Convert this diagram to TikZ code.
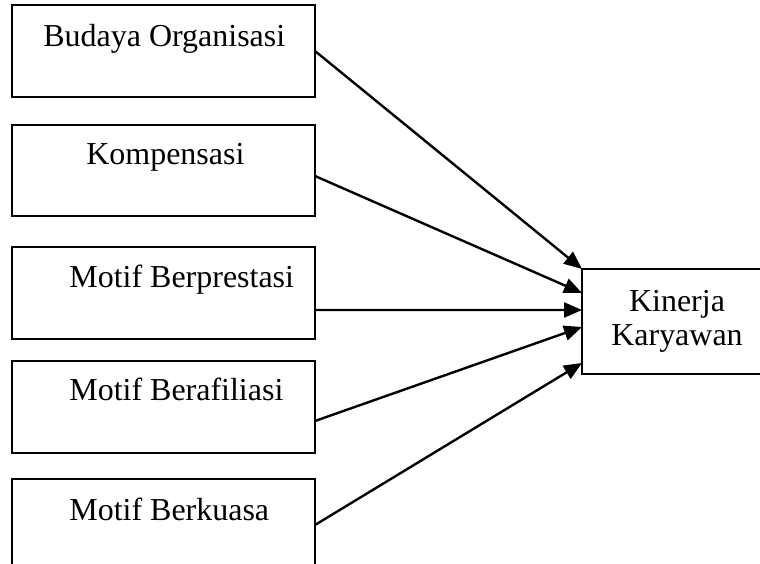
\documentclass[tikz,border=0pt]{standalone}
\usepackage{fontspec}
\setmainfont{Liberation Serif}
\usepackage{tikz}
\usetikzlibrary{arrows.meta}

\begin{document}
\begin{tikzpicture}[
    x=0.02cm, y=-0.02cm,
    varbox/.style={
        rectangle, draw, line width=0.04cm, outer sep=0pt, inner sep=0pt,
        minimum width=6.06cm, minimum height=1.84cm
    },
    mainbox/.style={
        rectangle, draw, line width=0.04cm, outer sep=0pt, inner sep=0pt,
        minimum width=3.8cm, minimum height=2.1cm,
        align=center, font=\fontsize{18.2}{21}\selectfont
    },
    txt/.style={anchor=base west, inner sep=0pt, font=\fontsize{18.2}{21}\selectfont},
    link/.style={line width=0.048cm, -{Triangle[length=0.36cm, width=0.3cm]}}
]
\useasboundingbox (0,0) rectangle (760,564);

\node[varbox]  (budaya)     at (163.5, 51)    {};
\node[varbox]  (kompensasi) at (163.5, 170.5) {};
\node[varbox]  (prestasi)   at (163.5, 293)   {};
\node[varbox]  (afiliasi)   at (163.5, 407)   {};
\node[varbox]  (kuasa)      at (163.5, 525)   {};
\node[mainbox] (kinerja)    at (677, 321.5)   {Kinerja\\[-2pt]Karyawan};

\node[txt] (tbudaya)     at (43, 47)  {Budaya Organisasi};
\node[txt] (tkompensasi) at (86, 165) {Kompensasi};
\node[txt] (tprestasi)   at (69, 287) {Motif Berprestasi};
\node[txt] (tafiliasi)   at (69, 400) {Motif Berafiliasi};
\node[txt] (tkuasa)      at (69, 520) {Motif Berkuasa};

\draw[link] (budaya.east)                  -- (kinerja.north west);
\draw[link] ([yshift=-0.11cm]kompensasi.east) -- ([yshift=-0.48cm]kinerja.north west);
\draw[link] ([yshift=-0.34cm]prestasi.east)   -- ([yshift=-0.82cm]kinerja.north west);
\draw[link] ([yshift=-0.28cm]afiliasi.east)   -- ([yshift=-1.16cm]kinerja.north west);
\draw[link] (kuasa.east)                   -- ([yshift=-1.88cm]kinerja.north west);

\end{tikzpicture}
\end{document}
